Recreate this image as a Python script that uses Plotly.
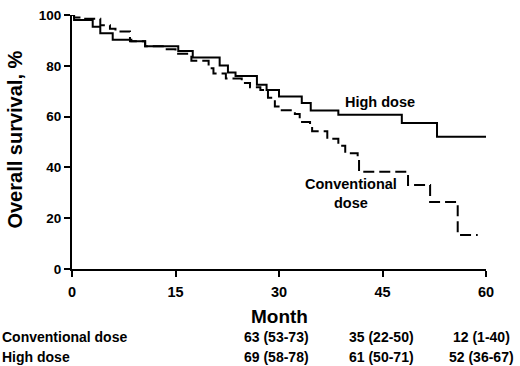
import plotly.graph_objects as go

# High dose (solid) Kaplan-Meier steps: month, overall survival %
high_month = [0, 0.3, 3.0, 4.1, 5.9, 8.6, 10.6, 15.4, 17.5, 21.4, 22.6, 23.7, 26.8, 28.2, 30.0, 33.3, 34.6, 38.6, 47.8, 52.9, 60]
high_surv = [100, 98, 95.4, 92.8, 90.3, 89.7, 87.7, 85.8, 83.3, 80.1, 77.4, 76.0, 72.5, 70.5, 67.9, 65.4, 62.4, 60.7, 57.5, 52.1, 52.1]

# Conventional dose (dashed)
conv_month = [0, 0.3, 1.3, 4.1, 5.5, 6.3, 8.4, 10.6, 13.3, 15.0, 17.3, 19.8, 20.5, 22.3, 24.6, 25.8, 27.3, 28.4, 29.4, 30.1, 32.3, 33.0, 34.5, 34.8, 37.0, 38.6, 39.6, 41.4, 41.6, 48.7, 51.9, 55.9, 58.8]
conv_surv = [100, 99, 98.5, 96, 94.6, 93.5, 89.7, 87.7, 86.5, 84.7, 82, 79, 77, 75, 73.2, 71.6, 70.5, 67.4, 64, 62.5, 61, 57.9, 56.3, 54.2, 51.3, 48.5, 45.6, 43.7, 38.3, 33.1, 26.4, 13.4, 13.4]

x_ticks = [0, 15, 30, 45, 60]
y_ticks = [0, 20, 40, 60, 80, 100]

table_months = [29.7, 44.8, 59.3]
table_labels = ["Conventional dose", "High dose"]
table_conv = ["63 (53-73)", "35 (22-50)", "12 (1-40)"]
table_high = ["69 (58-78)", "61 (50-71)", "52 (36-67)"]

FONT = "Liberation Sans, Arial, sans-serif"

fig = go.Figure()
fig.add_trace(go.Scatter(x=high_month, y=high_surv, mode="lines", line_shape="hv",
                         line=dict(color="black", width=2), cliponaxis=False, showlegend=False,
                         hoverinfo="skip"))
fig.add_trace(go.Scatter(x=conv_month, y=conv_surv, mode="lines", line_shape="hv",
                         line=dict(color="black", width=2, dash="11px,5px"), cliponaxis=False,
                         showlegend=False, hoverinfo="skip"))

L, R, T, B = 72, 34, 8, 97
W, H = 520, 366
pw, ph = W - L - R, H - T - B

def px_x(p):
    return (p - L) / pw

def px_y(p):
    return (H - B - p) / ph

annotations = [
    dict(text="High dose", x=44.6, y=65.9, xref="x", yref="y", showarrow=False,
         font=dict(size=14.5, family=FONT, color="black", weight="bold")),
    dict(text="Conventional<br>dose", x=40.4, y=29.7, xref="x", yref="y", showarrow=False,
         font=dict(size=14.5, family=FONT, color="black", weight="bold")),
    dict(text="Overall survival, %", x=px_x(15), y=px_y(136), xref="paper", yref="paper",
         textangle=-90, showarrow=False, xanchor="center", yanchor="middle",
         font=dict(size=20, family=FONT, color="black", weight="bold")),
    dict(text="Month", x=0.5, y=px_y(318), xref="paper", yref="paper",
         showarrow=False, xanchor="center", yanchor="middle",
         font=dict(size=19, family=FONT, color="black", weight="bold")),
]
row_y = [339, 359]
for i, lab in enumerate(table_labels):
    annotations.append(dict(text=lab, x=px_x(0), y=px_y(row_y[i]), xref="paper", yref="paper",
                            showarrow=False, xanchor="left", yanchor="middle",
                            font=dict(size=14, family=FONT, color="black", weight="bold")))
for row, vals in enumerate([table_conv, table_high]):
    for m, v in zip(table_months, vals):
        annotations.append(dict(text=v, x=m, y=px_y(row_y[row]), xref="x", yref="paper",
                                showarrow=False, xanchor="center", yanchor="middle",
                                font=dict(size=14, family=FONT, color="black", weight="bold")))

fig.update_layout(
    width=W, height=H,
    margin=dict(l=L, r=R, t=T, b=B),
    paper_bgcolor="white", plot_bgcolor="white",
    xaxis=dict(range=[0, 60], tickvals=x_ticks, showline=True, linecolor="black", linewidth=2,
               ticks="outside", ticklen=6, tickwidth=2, tickcolor="black", showgrid=False, zeroline=False,
               ticklabelstandoff=3,
               tickfont=dict(size=14.5, family=FONT, color="black", weight="bold")),
    yaxis=dict(range=[0, 100], tickvals=y_ticks, showline=True, linecolor="black", linewidth=2,
               ticks="outside", ticklen=6, tickwidth=2, tickcolor="black", showgrid=False, zeroline=False,
               tickfont=dict(size=13.5, family=FONT, color="black", weight="bold")),
    annotations=annotations,
)
fig.write_html("out.html", config={"displayModeBar": False},
               post_script="document.body.style.margin='0';document.body.style.overflow='hidden';")
